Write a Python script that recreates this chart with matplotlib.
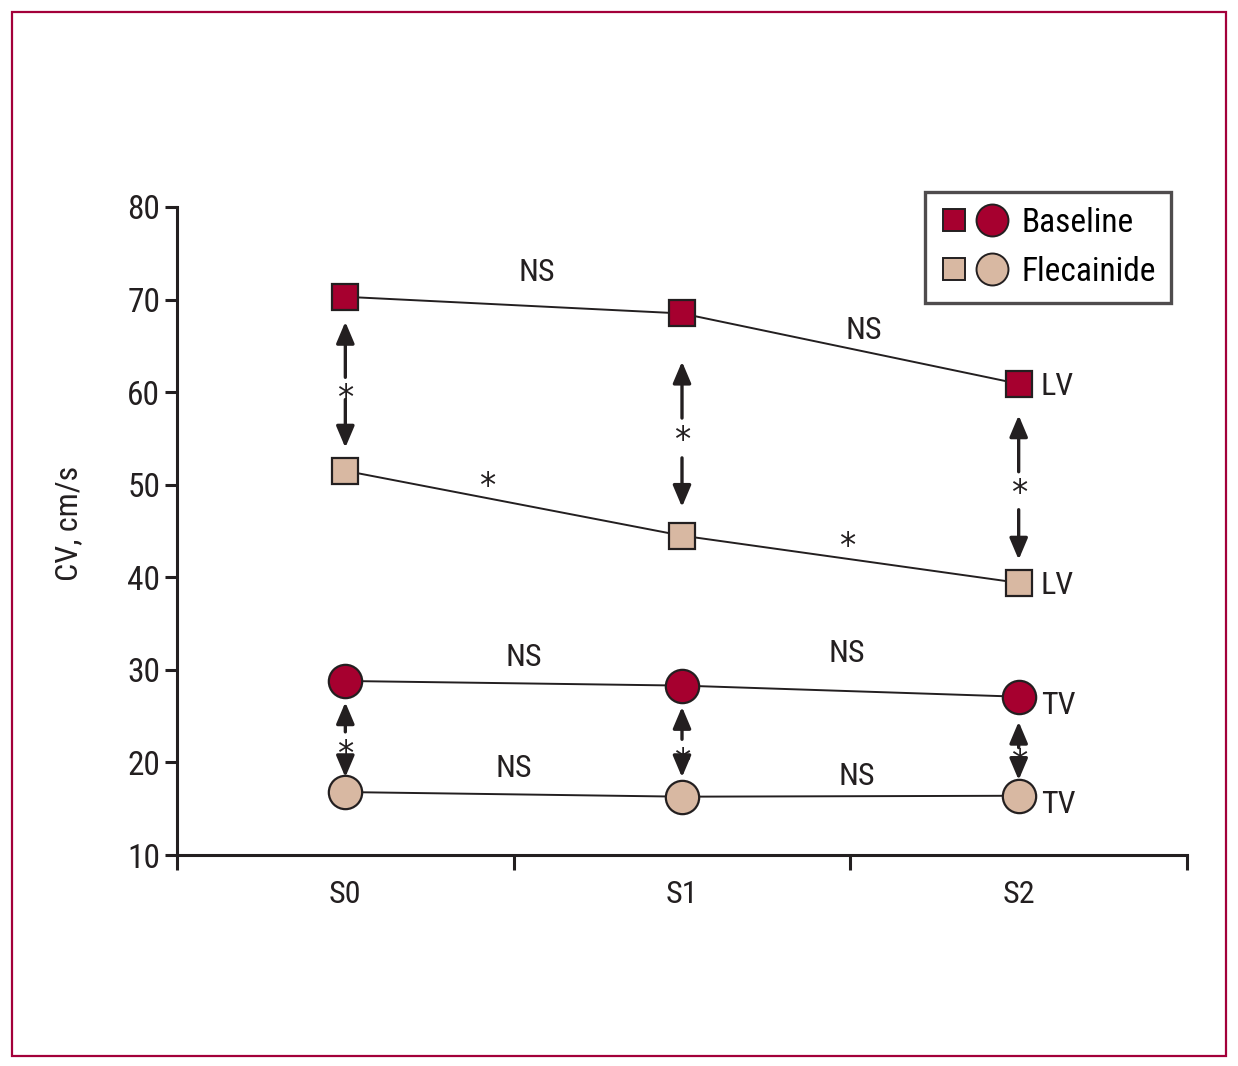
import matplotlib
matplotlib.use("Agg")
import matplotlib.pyplot as plt
from matplotlib import font_manager
from matplotlib.patches import Rectangle
from matplotlib.legend_handler import HandlerTuple
from matplotlib.lines import Line2D

# pick a narrow font if one is around
names = set(f.name for f in font_manager.fontManager.ttflist)
narrow = [n for n in ['Liberation Sans Narrow', 'Roboto Condensed', 'Open Sans Condensed',
                      'Noto Sans Condensed'] if n in names]
plt.rcParams['font.family'] = narrow + ['DejaVu Sans']
plt.rcParams['font.stretch'] = 'condensed'

# data
stages = ['S0', 'S1', 'S2']
x_pos = [0.5, 1.5, 2.5]
lv_baseline = [70.3, 68.5, 60.9]
lv_flecainide = [51.5, 44.5, 39.4]
tv_baseline = [28.8, 28.3, 27.1]
tv_flecainide = [16.8, 16.3, 16.4]

# significance labels between stages (x, y, text)
between_labels = [
    (1.07, 72.9, 'NS'), (2.04, 66.7, 'NS'),
    (0.92, 50.5, '*'), (1.99, 44.0, '*'),
    (1.03, 31.3, 'NS'), (1.99, 31.8, 'NS'),
    (1.00, 19.3, 'NS'), (2.02, 18.5, 'NS'),
]
# vertical comparison: star, then arrow (start, tip) up and down
lv_star = [60.0, 55.4, 49.75]
lv_up = [(61.6, 67.6), (57.2, 63.3), (51.4, 57.5)]
lv_down = [(59.2, 54.0), (52.9, 47.6), (47.3, 41.9)]
tv_star = [21.56, 20.6, 20.5]
tv_up = [(23.3, 26.5), (22.5, 26.0), (21.6, 24.4)]
tv_down = [(20.3, 18.4), (19.8, 18.4), (19.5, 18.1)]

red = '#a6002f'
tan = '#d8b8a2'
edge = '#231f20'

fig = plt.figure(figsize=(12.38, 10.66), dpi=100)
ax = fig.add_axes([177/1238, 1 - 855/1066, 1010/1238, 648/1066])

fig.patches.append(Rectangle((12/1238, 10/1066), 1214/1238, 1044/1066,
                             transform=fig.transFigure, fill=False,
                             edgecolor='#a3003a', linewidth=1.6))

sq = dict(marker='s', markersize=19, markeredgecolor=edge, markeredgewidth=1.6)
ci = dict(marker='o', markersize=24, markeredgecolor=edge, markeredgewidth=1.6)

ax.plot(x_pos, lv_baseline, color=edge, lw=1.4, markerfacecolor=red, zorder=3, **sq)
ax.plot(x_pos, lv_flecainide, color=edge, lw=1.4, markerfacecolor=tan, zorder=3, **sq)
ax.plot(x_pos, tv_baseline, color=edge, lw=1.4, markerfacecolor=red, zorder=3, **ci)
ax.plot(x_pos, tv_flecainide, color=edge, lw=1.4, markerfacecolor=tan, zorder=3, **ci)

arrow = dict(arrowstyle='-|>,head_length=1.3,head_width=0.55', color=edge, lw=2.4,
             shrinkA=0, shrinkB=0)
star_fs = 26
star_font = dict(ha='center', va='baseline', fontsize=star_fs, color=edge,
                 family='DejaVu Sans', zorder=4)


def star(x, y):
    # centre the asterisk glyph on (x, y)
    ax.annotate('*', xy=(x, y), xytext=(0, -0.46 * star_fs), textcoords='offset points',
                **star_font)


def vert_arrow(x, seg):
    ax.annotate('', xy=(x, seg[1]), xytext=(x, seg[0]), zorder=2, arrowprops=arrow)


for i in range(3):
    x = x_pos[i]
    star(x, lv_star[i])
    vert_arrow(x, lv_up[i])
    vert_arrow(x, lv_down[i])
    star(x, tv_star[i])
    vert_arrow(x, tv_up[i])
    vert_arrow(x, tv_down[i])

for x, y, t in between_labels:
    if t == '*':
        star(x, y)
    else:
        ax.text(x, y, t, ha='center', va='center', fontsize=23, color=edge)

# series labels
for y, t in [(lv_baseline[2], 'LV'), (lv_flecainide[2], 'LV'),
             (tv_baseline[2], 'TV'), (tv_flecainide[2], 'TV')]:
    dy = -2 if t == 'LV' else -6
    ax.annotate(t, xy=(x_pos[2], y), xytext=(16, dy), textcoords='offset points',
                ha='left', va='center', fontsize=23, color=edge)

ax.set_xlim(0, 3)
ax.set_ylim(10, 80)
ax.set_yticks(range(10, 81, 10))
ax.set_xticks([0, 1, 2, 3])
ax.set_xticklabels([])
ax.set_xticks(x_pos, minor=True)
ax.set_xticklabels(stages, minor=True)
ax.tick_params(axis='x', which='major', length=11, width=2.2, direction='out', color=edge)
ax.tick_params(axis='x', which='minor', length=0, pad=18, labelsize=23, labelcolor=edge)
ax.tick_params(axis='y', length=9, width=2.2, direction='out', labelsize=24,
               labelcolor=edge, color=edge, pad=3)

for s in ['top', 'right']:
    ax.spines[s].set_visible(False)
for s in ['left', 'bottom']:
    ax.spines[s].set_linewidth(2.2)
    ax.spines[s].set_color(edge)

ax.set_ylabel('CV, cm/s', fontsize=23, color=edge)
ax.yaxis.set_label_coords(-0.093, 0.511)

# legend
h_base = (Line2D([], [], ls='none', markerfacecolor=red, marker='s', markersize=16,
                 markeredgecolor=edge, markeredgewidth=1.4),
          Line2D([], [], ls='none', markerfacecolor=red, marker='o', markersize=23,
                 markeredgecolor=edge, markeredgewidth=1.4))
h_flec = (Line2D([], [], ls='none', markerfacecolor=tan, marker='s', markersize=16,
                 markeredgecolor=edge, markeredgewidth=1.4),
          Line2D([], [], ls='none', markerfacecolor=tan, marker='o', markersize=23,
                 markeredgecolor=edge, markeredgewidth=1.4))
leg = ax.legend([h_base, h_flec], ['Baseline', 'Flecainide'],
                handler_map={tuple: HandlerTuple(ndivide=None, pad=0.3)},
                loc='upper right', bbox_to_anchor=(994/1010, 663/648),
                fontsize=24, frameon=True, fancybox=False, edgecolor=edge,
                handlelength=2.0, handletextpad=0.45, labelspacing=0.5,
                borderpad=0.45, borderaxespad=0)
leg.get_frame().set_linewidth(2.4)

fig.savefig('out.png', dpi=100)
